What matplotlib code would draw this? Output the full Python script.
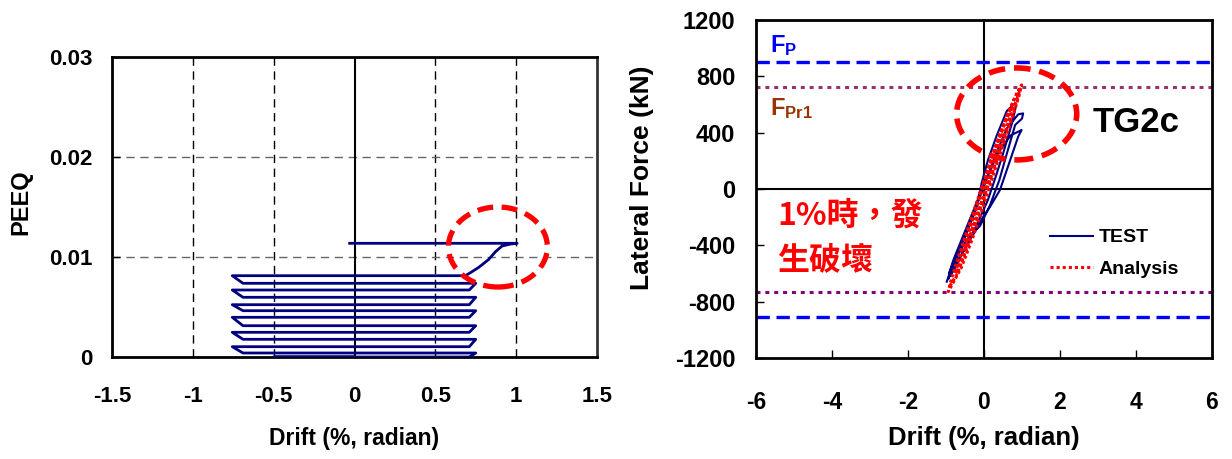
import matplotlib
matplotlib.use('Agg')
import matplotlib.pyplot as plt
from matplotlib.patches import Ellipse
from matplotlib.lines import Line2D

plt.rcParams['font.family'] = ['Liberation Sans', 'DejaVu Sans']
plt.rcParams['font.weight'] = 'bold'
plt.rcParams['axes.unicode_minus'] = False
plt.rcParams['mathtext.fontset'] = 'custom'
plt.rcParams['mathtext.rm'] = 'Liberation Sans:bold'
plt.rcParams['mathtext.bf'] = 'Liberation Sans:bold'

# ---- left chart: PEEQ vs drift
peeq_drift = [0.0, -0.5, 0.71, 0.75, -0.69, -0.756, 0.71, 0.75, -0.69, -0.756,
              0.71, 0.75, -0.69, -0.756, 0.71, 0.75, -0.69, -0.756, 0.71, 0.75,
              -0.69, -0.756, 0.71, 0.75, -0.69, -0.756, 0.686,
              0.717, 0.769, 0.831, 0.872, 0.913, 0.965, 1.006, -0.03]
peeq_value = [0.0, 0.0, 0.0, 0.0004, 0.0004, 0.00103, 0.00103, 0.00177, 0.00177,
              0.00247, 0.00247, 0.00313, 0.00313, 0.00397, 0.00397, 0.00463,
              0.00463, 0.00523, 0.00523, 0.00597, 0.00597, 0.0067, 0.0067,
              0.00737, 0.00737, 0.00813, 0.00813,
              0.00843, 0.00897, 0.00977, 0.01053, 0.0111, 0.0113, 0.01137, 0.01137]
left_xticks = [-1.5, -1, -0.5, 0, 0.5, 1, 1.5]
left_xlabels = ['-1.5', '-1', '-0.5', '0', '0.5', '1', '1.5']
left_yticks = [0, 0.01, 0.02, 0.03]
left_ylabels = ['0', '0.01', '0.02', '0.03']

# ---- right chart: lateral force vs drift
test_drift = [-0.98, -0.72, -0.46, -0.19, -0.06, 0.11, 0.33, 0.6, 0.82, 0.85, 0.75,
              0.5, 0.3, 0.1, -0.2, -0.5, -0.8, -0.95, -0.85, -0.6, -0.3, 0.0, 0.3,
              0.6, 0.9, 1.03, 1.0, 0.82, 0.6, 0.4, 0.15, -0.1, -0.46, -0.81, -0.92,
              -0.8, -0.5, -0.2, 0.1, 0.4, 0.7, 0.99, 0.9, 0.6, 0.42, 0.16, -0.02,
              -0.3, -0.6, -0.85]
test_force = [-658, -457, -315, -126, 45, 210, 376, 554, 609, 600, 480, 250, 80,
              -80, -260, -420, -580, -640, -580, -400, -190, 20, 240, 430, 530,
              537, 500, 455, 250, 60, -120, -260, -362, -528, -600, -500, -300,
              -100, 100, 270, 380, 419, 372, 135, -7, -126, -197, -330, -470, -560]
ana_drift = [0.0, 0.2, 0.4, 0.5, 0.45, 0.3, 0.1, -0.15, -0.35, -0.5, -0.45, -0.3,
             -0.1, 0.15, 0.4, 0.6, 0.75, 0.68, 0.5, 0.25, 0.0, -0.25, -0.5, -0.75,
             -0.68, -0.45, -0.2, 0.05, 0.3, 0.55, 0.8, 0.99, 0.92, 0.7, 0.45, 0.2,
             -0.05, -0.3, -0.6, -0.94, -0.86, -0.6, -0.3, 0.0, 0.3, 0.6, 0.9, 0.95,
             0.8, 0.5, 0.2, -0.1, -0.4, -0.7, -0.9]
ana_force = [0, 160, 320, 400, 330, 190, 30, -160, -320, -420, -350, -220, -50,
             160, 360, 500, 600, 510, 360, 160, -40, -240, -430, -600, -520, -330,
             -120, 90, 290, 480, 640, 739, 660, 470, 270, 60, -150, -350, -560,
             -729, -640, -420, -180, 60, 300, 520, 700, 710, 580, 340, 100, -140,
             -380, -600, -690]
fp_pos, fp_neg = 905, -912
fpr1_pos, fpr1_neg = 725, -728
right_xticks = [-6, -4, -2, 0, 2, 4, 6]
right_yticks = [-1200, -800, -400, 0, 400, 800, 1200]

W, H = 1232, 459
fig = plt.figure(figsize=(W / 100, H / 100), dpi=100)

# left axes
ax1 = fig.add_axes([112 / W, 1 - 357 / H, 485 / W, 300 / H])
ax1.set_xlim(-1.5, 1.5)
ax1.set_ylim(0, 0.03)
for x in [-1, -0.5, 0.5, 1]:
    ax1.axvline(x, color='black', lw=1, ls=(0, (6, 4)), zorder=1)
for y in [0.01, 0.02]:
    ax1.axhline(y, color='#666666', lw=1, ls=(0, (6, 4)), zorder=1)
ax1.axvline(0, color='black', lw=1.5, zorder=1)
ax1.plot(peeq_drift, peeq_value, color='#000080', lw=2, zorder=3)
ax1.add_patch(Ellipse((0.887, 0.011), 0.612, 0.008, fill=False, ec='red',
                      lw=3.8, ls=(0, (3, 1.6)), zorder=4))
ax1.set_xticks(left_xticks)
ax1.set_xticklabels(left_xlabels)
ax1.set_yticks(left_yticks)
ax1.set_yticklabels(left_ylabels)
ax1.tick_params(axis='x', length=0, pad=21, labelsize=16)
ax1.tick_params(axis='y', direction='in', length=6, width=1, pad=14, labelsize=16)
for s in ax1.spines.values():
    s.set_linewidth(2)
ax1.spines['right'].set_color('#333333')

fig.text(354 / W, 1 - 438 / H, 'Drift (%, radian)', ha='center', va='center',
         fontsize=16.5, fontweight='bold')
fig.text(21 / W, 1 - 202 / H, 'PEEQ', ha='center', va='center', rotation=90,
         fontsize=17, fontweight='bold')

# right axes
ax2 = fig.add_axes([756 / W, 1 - 358 / H, 456 / W, 338 / H])
ax2.set_xlim(-6, 6)
ax2.set_ylim(-1200, 1200)
ax2.axvline(0, color='black', lw=1.5, zorder=1)
ax2.axhline(0, color='black', lw=1.5, zorder=1)
ax2.axhline(fp_pos, color='#0000FF', lw=2.4, ls=(0, (4, 2)), zorder=2)
ax2.axhline(fp_neg, color='#0000FF', lw=2.4, ls=(0, (4, 2)), zorder=2)
ax2.axhline(fpr1_pos, color='#993366', lw=2.2, ls=(0, (1.3, 1.6)), zorder=2)
ax2.axhline(fpr1_neg, color='#800080', lw=2.2, ls=(0, (1.3, 1.6)), zorder=2)
ax2.plot(test_drift, test_force, color='#000080', lw=1.5, zorder=3)
ax2.plot(ana_drift, ana_force, color='red', lw=2.2, ls=(0, (1, 0.8)), zorder=4)
ax2.add_patch(Ellipse((0.86, 533), 3.16, 653, fill=False, ec='red',
                      lw=4, ls=(0, (3, 1.6)), zorder=5))
ax2.set_xticks(right_xticks)
ax2.set_yticks(right_yticks)
ax2.tick_params(axis='x', direction='in', length=6, width=1, pad=24, labelsize=16.5)
ax2.tick_params(axis='y', direction='in', length=6, width=1, pad=15, labelsize=17)
for s in ax2.spines.values():
    s.set_linewidth(2)

ax2.text(-5.63, 975, r'$\mathbf{F_{P}}$', color='#0000FF', fontsize=17,
         ha='left', va='baseline')
ax2.text(-5.63, 525, r'$\mathbf{F_{Pr1}}$', color='#993300', fontsize=17,
         ha='left', va='baseline')
ax2.text(2.87, 469, 'TG2c', fontsize=25, fontweight='bold', ha='left', va='center')
cjk = ['Noto Sans CJK TC', 'DejaVu Sans']
ax2.text(-5.45, -192, '1%時，發', color='red', fontsize=23, fontweight='bold',
         family=cjk, ha='left', va='center')
ax2.text(-5.45, -504, '生破壞', color='red', fontsize=23, fontweight='bold',
         family=cjk, ha='left', va='center')

handles = [Line2D([], [], color='#000080', lw=1.5),
           Line2D([], [], color='red', lw=2.2, ls=(0, (1, 1)))]
ax2.legend(handles, ['TEST', 'Analysis'], loc='center left',
           bbox_to_anchor=(0.645, 0.31), frameon=False, fontsize=14,
           handlelength=2.2, handletextpad=0.3, borderpad=0, borderaxespad=0,
           labelspacing=0.7)

fig.text(984 / W, 1 - 438 / H, 'Drift (%, radian)', ha='center', va='center',
         fontsize=18.5, fontweight='bold')
fig.text(642 / W, 1 - 178 / H, 'Lateral Force (kN)', ha='center', va='center',
         rotation=90, fontsize=19, fontweight='bold')

fig.savefig('out.png', dpi=100)
